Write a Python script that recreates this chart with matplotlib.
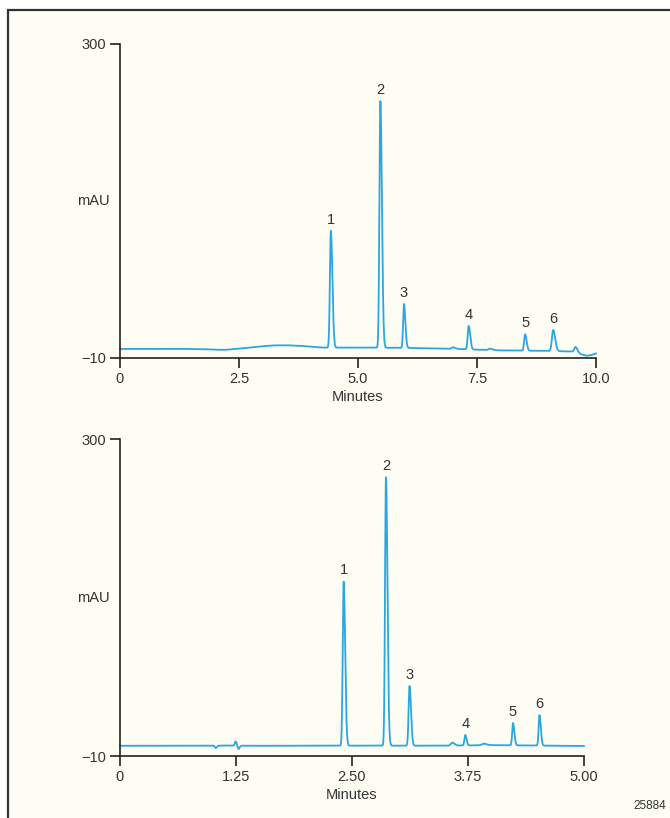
import numpy as np
import matplotlib
matplotlib.use('Agg')
import matplotlib.pyplot as plt
from matplotlib.patches import Rectangle

plt.rcParams['font.family'] = ['Liberation Sans Narrow', 'Liberation Sans', 'DejaVu Sans']

# ---- data ----
# run 1: 10 minute gradient
top_peak_t = [4.43, 5.47, 5.966, 7.0, 7.325, 7.77, 8.51, 9.10, 9.57]
top_peak_apex = [115.6, 243.6, 43.3, 0.5, 21.6, -0.8, 13.4, 17.6, 0.9]
top_peak_sigma = [0.020, 0.020, 0.018, 0.03, 0.020, 0.03, 0.020, 0.026, 0.025]
top_peak_labels = ['1', '2', '3', '', '4', '', '5', '6', '']
top_base_t = [0.0, 1.2, 1.8, 2.0, 2.2, 2.4, 2.6, 2.9, 3.2, 3.5, 3.8, 4.1, 4.3,
              5.0, 6.0, 7.0, 8.0, 9.0, 9.5, 9.7, 9.8, 9.9, 10.0]
top_base_v = [-1.1, -0.9, -1.3, -1.8, -2.0, -1.2, -0.3, 1.2, 2.4, 2.6, 2.0, 0.8, 0.2,
              0.3, 0.0, -1.0, -2.5, -3.0, -3.6, -6.5, -7.8, -7.2, -5.5]

# run 2: 5 minute gradient
bot_peak_t = [1.03, 1.245, 1.275, 2.41, 2.866, 3.12, 3.58, 3.72, 3.92, 4.235, 4.52]
bot_peak_apex = [-2.2, 4.2, -3.3, 160.5, 262.6, 58.5, 3.0, 10.5, 2.0, 22.2, 30.0]
bot_peak_sigma = [0.008, 0.008, 0.008, 0.010, 0.010, 0.010, 0.015, 0.009, 0.02, 0.009, 0.009]
bot_peak_labels = ['', '', '', '1', '2', '3', '', '4', '', '5', '6']
bot_base_t = [0.0, 1.0, 1.5, 2.5, 3.5, 4.0, 4.5, 5.0]
bot_base_v = [0.0, 0.2, 0.0, 0.1, 0.1, 0.6, 0.2, -0.2]

top_xticks = [0, 2.5, 5.0, 7.5, 10.0]
top_xticklabels = ['0', '2.5', '5.0', '7.5', '10.0']
bot_xticks = [0, 1.25, 2.50, 3.75, 5.00]
bot_xticklabels = ['0', '1.25', '2.50', '3.75', '5.00']

LINE = '#2AA6E0'
BG = '#FDFDF3'


def trace(t_end, peak_t, apex, sigma, base_t, base_v):
    t = np.linspace(0, t_end, int(t_end * 2000) + 1)
    base = np.interp(t, base_t, base_v)
    y = base.copy()
    for pt, a, s in zip(peak_t, apex, sigma):
        amp = a - np.interp(pt, base_t, base_v)
        # tailing peak: wider on the trailing side
        sig = np.where(t < pt, s, s * 1.6)
        y += amp * np.exp(-0.5 * ((t - pt) / sig) ** 2)
    return t, y


fig = plt.figure(figsize=(6.7, 8.18), dpi=100, facecolor='white')
# cream panel with a dark frame on top and left
fig.patches.append(Rectangle((8 / 670, -0.05), 1.0, 1 - 10 / 818 + 0.05,
                             transform=fig.transFigure, facecolor=BG,
                             edgecolor='#333333', linewidth=1.6, zorder=-5))

ax1 = fig.add_axes([120 / 670, 1 - 358 / 818, 476 / 670, 314 / 818])
ax2 = fig.add_axes([120 / 670, 1 - 756 / 818, 464 / 670, 317 / 818])

panels = [
    (ax1, 10.0, 476, top_peak_t, top_peak_apex, top_peak_sigma, top_peak_labels,
     top_base_t, top_base_v, top_xticks, top_xticklabels),
    (ax2, 5.0, 464, bot_peak_t, bot_peak_apex, bot_peak_sigma, bot_peak_labels,
     bot_base_t, bot_base_v, bot_xticks, bot_xticklabels),
]

for ax, t_end, w, pk_t, pk_a, pk_s, pk_lab, b_t, b_v, xt, xtl in panels:
    ax.set_zorder(2)
    ax.set_facecolor('none')
    t, y = trace(t_end, pk_t, pk_a, pk_s, b_t, b_v)
    ax.plot(t, y, color=LINE, linewidth=1.3, clip_on=False)
    for pt, a, lab in zip(pk_t, pk_a, pk_lab):
        if lab:
            ax.annotate(lab, (pt, a), xytext=(0, 3), textcoords='offset points',
                        ha='center', va='bottom', fontsize=10.5, color='#333333')
    ax.set_xlim(0, t_end)
    ax.set_ylim(-10, 300)
    ax.set_yticks([-10, 300])
    ax.set_yticklabels(['\u221210', '300'])
    ax.set_xticks(xt)
    ax.set_xticklabels(xtl)
    for side in ['top', 'right']:
        ax.spines[side].set_visible(False)
    for side in ['left', 'bottom']:
        ax.spines[side].set_linewidth(1.2)
        ax.spines[side].set_color('#222222')
    ax.tick_params(direction='out', length=7, width=1.2, color='#222222',
                   labelsize=10.5, labelcolor='#333333', pad=3)
    ax.set_xlabel('Minutes', fontsize=10.5, color='#333333', labelpad=3)
    ax.text(-27 / w, 0.5, 'mAU', transform=ax.transAxes,
            fontsize=10.5, color='#333333', ha='center', va='center')

fig.text(650 / 670, 1 - 806 / 818, '25884', fontsize=8.5, color='#333333',
         ha='center', va='center')

fig.savefig('out.png', dpi=100, facecolor='white')
